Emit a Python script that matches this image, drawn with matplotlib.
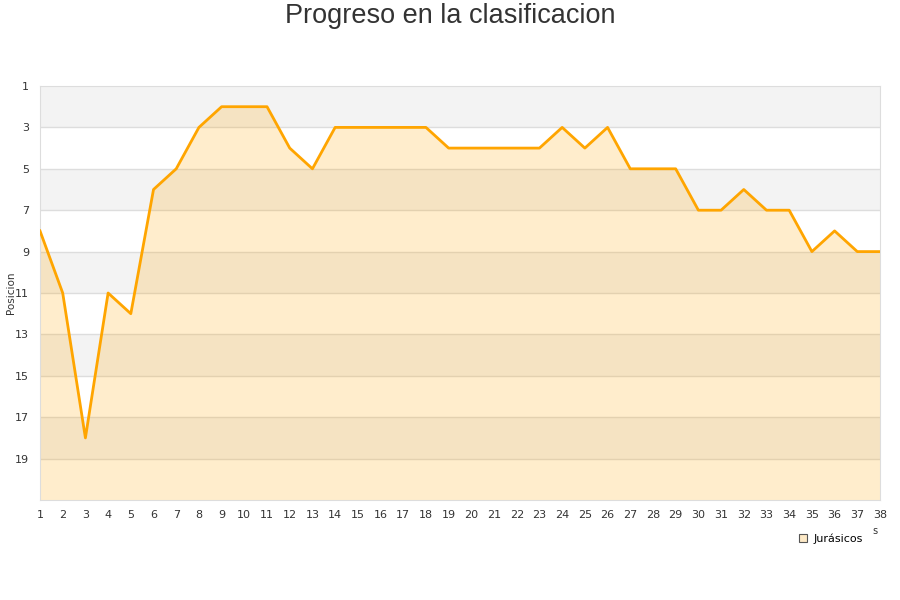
import matplotlib
matplotlib.use('Agg')
import matplotlib.pyplot as plt
from matplotlib.lines import Line2D

jornadas = list(range(1, 39))
posicion = [8, 11, 18, 11, 12, 6, 5, 3, 2, 2, 2, 4, 5, 3, 3, 3, 3, 3, 4, 4,
            4, 4, 4, 3, 4, 3, 5, 5, 5, 7, 7, 6, 7, 7, 9, 8, 9, 9]
y_ticks = [1, 3, 5, 7, 9, 11, 13, 15, 17, 19]
equipo = 'Jurásicos'

LINE = '#FFA500'
GRID = '#dddddd'

fig = plt.figure(figsize=(9, 6), dpi=100)
ax = fig.add_axes([40 / 900, 100 / 600, 840 / 900, 414 / 600])

# alternating bands
for lo in range(1, 21, 4):
    ax.axhspan(lo, lo + 2, color='#f3f3f3', zorder=0, lw=0)

ax.fill_between(jornadas, posicion, 21, color=LINE, alpha=0.2, lw=0, zorder=2)
ax.plot(jornadas, posicion, color=LINE, lw=2, zorder=3)

ax.set_xlim(1, 38)
ax.set_ylim(21, 1)
ax.set_xticks(jornadas)
ax.set_yticks(y_ticks)
ax.tick_params(length=0, labelsize=8, colors='#333333', pad=7)
ax.tick_params(axis='y', pad=8)
for y in y_ticks[1:]:
    ax.axhline(y, color=GRID, lw=1, zorder=1)
for s in ax.spines.values():
    s.set_color(GRID)

fig.text(11 / 900, 1 - 293 / 600, 'Posicion', rotation=90, ha='center', va='center',
         fontsize=7.5, color='#333333')
fig.text(0.5, 1 - 16 / 600, 'Progreso en la clasificacion', ha='center', va='center',
         fontsize=19.5, color='#333333', family='Liberation Sans')
fig.text(875 / 900, 1 - 531 / 600, 's', ha='center', va='center', fontsize=7, color='#333333')

handle = Line2D([], [], marker='s', ls='none', markersize=6,
                markerfacecolor='#fde9c6', markeredgecolor='#555555', markeredgewidth=0.8)
fig.legend([handle], [equipo], loc='center', bbox_to_anchor=(830 / 900, 1 - 539 / 600),
           frameon=False, fontsize=8, handletextpad=0.4, handlelength=1)

fig.savefig('out.png', dpi=100)
